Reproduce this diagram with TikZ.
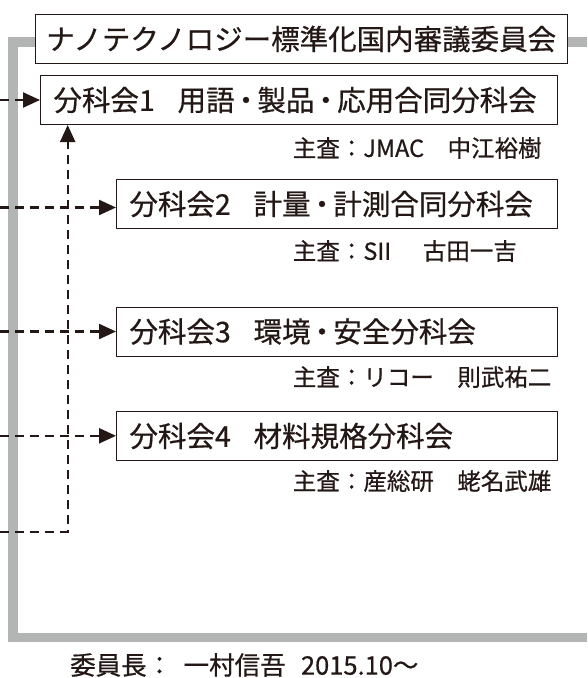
\documentclass[tikz,border=0pt]{standalone}
\usepackage{fontspec}
\setmainfont{Noto Sans CJK JP}[FakeBold=0.6]
\usetikzlibrary{arrows.meta}
\definecolor{ink}{HTML}{231815}
\definecolor{framegray}{HTML}{B3B4B4}
\begin{document}
\begin{tikzpicture}[x=1pt,y=-1pt,
  box/.style={draw=ink, line width=1pt, fill=white, text=ink, anchor=north west,
    minimum height=49pt, inner ysep=0pt, inner xsep=13pt, align=left,
    font=\fontsize{28.5}{30}\selectfont},
  lab/.style={text=ink, anchor=west, inner sep=0pt, font=\fontsize{23.5}{25}\selectfont},
  conn/.style={draw=ink, line width=2.3pt, dash pattern=on 9pt off 6pt,
    -{Triangle[length=17pt,width=15pt]}},
  frameline/.style={draw=framegray, line width=9.5pt}
  ]
\useasboundingbox (0,0) rectangle (587,678);
\coordinate (o) at (0,0);
% gray frame
\coordinate (f1) at (587,42);
\coordinate (f2) at (12.8,42);
\coordinate (f3) at (12.8,637.5);
\coordinate (f4) at (587,637.5);
\draw[frameline] (f1) -- (f2) -- (f3) -- (f4);
% boxes
\node[box, minimum width=532.5pt, inner xsep=0pt, align=center] (title) at (34.5,14)
  {ナノテクノロジー標準化国内審議委員会};
\node[box, text width=491pt] (b1) at (40,75) {分科会1\hspace{0.8em}用語\hspace{-0.1em}・\hspace{-0.1em}製品\hspace{-0.1em}・\hspace{-0.1em}応用合同分科会};
\node[box, text width=415pt] (b2) at (116,179) {分科会2\hspace{0.8em}計量\hspace{-0.1em}・\hspace{-0.1em}計測合同分科会};
\node[box, text width=415pt] (b3) at (116,306.5) {分科会3\hspace{0.8em}環境\hspace{-0.1em}・\hspace{-0.1em}安全分科会};
\node[box, text width=415pt] (b4) at (116,411) {分科会4\hspace{0.8em}材料規格分科会};
% labels
\node[lab] (l1) at (292.7,148) {主査：JMAC　中江裕樹};
\node[lab] (l2) at (292.7,251) {主査：SII\hspace{1.35em}古田一吉};
\node[lab] (l3) at (292.7,377) {主査：リコー　則武祐二};
\node[lab] (l4) at (292.7,481) {主査：産総研　蛯名武雄};
\node[lab, font=\fontsize{25.5}{27}\selectfont] (chair) at (70,665)
  {委員長：\hspace{0.45em}一村信吾\hspace{0.6em}2015.10～};
% connectors
\coordinate (s1) at (b1.west -| o);
\coordinate (s2) at (0,207.5);
\coordinate (s3) at (0,331.5);
\coordinate (s4) at (0,435.8);
\coordinate (s5) at (0,531.7);
\coordinate (k) at (67.7,531.7);
\draw[conn] (s1) -- (b1.west);
\draw[conn] (s2) -- (s2 -| b2.west);
\draw[conn] (s3) -- (s3 -| b3.west);
\draw[conn] (s4) -- (s4 -| b4.west);
\draw[conn] (s5) -- (k) -- (k |- b1.south);
\end{tikzpicture}
\end{document}
